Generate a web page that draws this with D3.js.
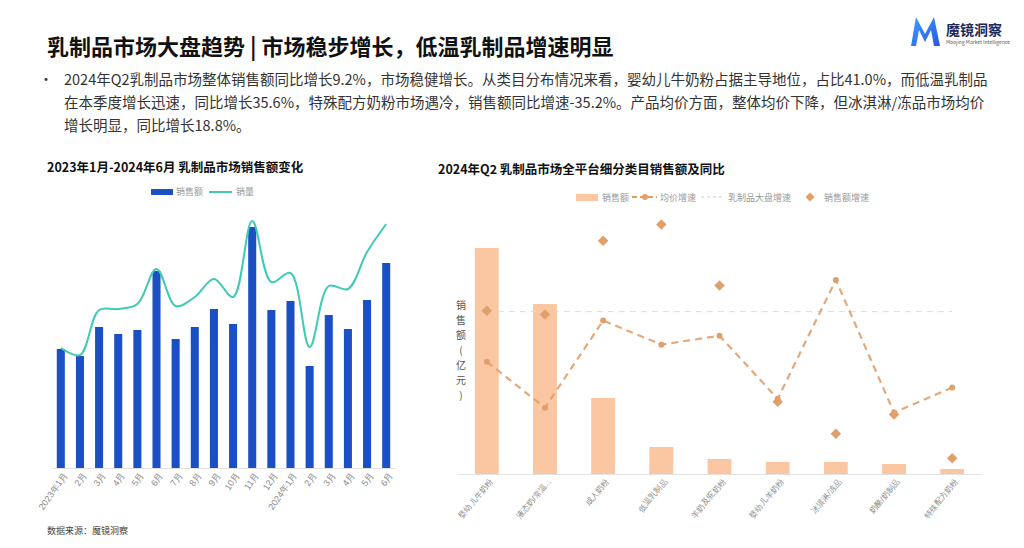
<!DOCTYPE html>
<html>
<head>
<meta charset="utf-8">
<script src="https://cdn.jsdelivr.net/npm/d3@7"></script>
<style>
  body { margin: 0; background: #fff; }
  svg { display: block; font-family: "Noto Sans CJK SC", "Noto Sans", sans-serif; }
  .axis path { stroke: #e2e2e2; }
  .axis text { fill: #8a8a8a; }
</style>
</head>
<body>
<svg id="chart" width="1024" height="548"></svg>
<script>
// left chart: monthly sales (amount + volume)
const months = ["2023年1月","2月","3月","4月","5月","6月","7月","8月","9月","10月","11月","12月",
                "2024年1月","2月","3月","4月","5月","6月"];
const salesAmt = [59.5, 56, 70.5, 67, 69, 98.5, 64.5, 70.5, 79.5, 72, 120.5, 79, 83.5, 51, 76.5, 69.5, 84, 102.5];
const salesVol = [60, 56.5, 79, 79.5, 82, 99.5, 81, 85.5, 94.5, 85.5, 123.5, 93, 97.5, 60.5, 91, 89.5, 108, 122];

// right chart: Q2 2024 categories
const categories = ["婴幼儿牛奶粉","液态奶/常温...","成人奶粉","低温乳制品","羊奶及驼奶粉",
                    "婴幼儿羊奶粉","冰淇淋/冻品","奶酪/奶制品","特殊配方奶粉"];
const catSales = [113, 85, 38, 13.5, 7.5, 6, 6, 5, 2.5];
const priceGrowth = [-6.0, -19.9, 6.5, -0.8, 1.9, -17.2, 18.8, -21.4, -13.8];
const salesGrowth = [9.5, 8.3, 30.7, 35.6, 17.1, -18.1, -27.8, -22.0, -35.2];
const marketGrowth = 9.2;

const bulletLines = [
  "2024年Q2乳制品市场整体销售额同比增长9.2%，市场稳健增长。从类目分布情况来看，婴幼儿牛奶粉占据主导地位，占比41.0%，而低温乳制品",
  "在本季度增长迅速，同比增长35.6%，特殊配方奶粉市场遇冷，销售额同比增速-35.2%。产品均价方面，整体均价下降，但冰淇淋/冻品市场均价",
  "增长明显，同比增长18.8%。"
];

const svg = d3.select("#chart");
const blue = "#1b4fc4", teal = "#3fcab3", peach = "#fbc6a2", orange = "#e0a06c";

// header
svg.append("text").attr("x", 47).attr("y", 55)
  .attr("font-size", "22px").attr("font-weight", "bold").attr("fill", "#111")
  .text("乳制品市场大盘趋势 | 市场稳步增长，低温乳制品增速明显");

// logo
const grad = svg.append("defs").append("linearGradient").attr("id", "lg")
  .attr("x1", 0).attr("y1", 0).attr("x2", 1).attr("y2", 1);
grad.append("stop").attr("offset", "0%").attr("stop-color", "#3aa0ff");
grad.append("stop").attr("offset", "100%").attr("stop-color", "#2a55e8");
svg.append("path")
  .attr("d", "M911,46 L916,17 L925,34 L934,17 L940,46 L934,46 L931,30 L925,42 L919,30 L916,46 Z")
  .attr("fill", "url(#lg)");
svg.append("text").attr("x", 946).attr("y", 35).attr("font-size", "14px")
  .attr("font-weight", "bold").attr("fill", "#1c2a5a").text("魔镜洞察");
svg.append("text").attr("x", 946).attr("y", 44).attr("font-size", "5px")
  .attr("fill", "#555").text("Moojing Market Intelligence");

// bullet paragraph
svg.append("text").attr("x", 39).attr("y", 84).attr("font-size", "14px").attr("fill", "#333").text("•");
svg.selectAll(".para").data(bulletLines).enter().append("text")
  .attr("class", "para")
  .attr("x", 64).attr("y", (d, i) => 85 + i * 23)
  .attr("font-size", "14.5px").attr("fill", "#333")
  .text(d => d);

// ---------- left chart ----------
svg.append("text").attr("x", 47).attr("y", 172).attr("font-size", "12.5px")
  .attr("font-weight", "bold").attr("fill", "#111")
  .text("2023年1月-2024年6月  乳制品市场销售额变化");

const lg1 = svg.append("g").attr("font-size", "9px").attr("fill", "#999");
lg1.append("rect").attr("x", 151).attr("y", 189).attr("width", 22).attr("height", 6).attr("fill", blue);
lg1.append("text").attr("x", 176).attr("y", 195).text("销售额");
lg1.append("line").attr("x1", 209).attr("x2", 232).attr("y1", 192).attr("y2", 192)
  .attr("stroke", teal).attr("stroke-width", 2);
lg1.append("text").attr("x", 236).attr("y", 195).text("销量");

// month labels repeat, so the band scale runs on indexes
const xL = d3.scaleBand().domain(d3.range(months.length)).range([52, 395])
  .paddingInner(0.58).paddingOuter(0.25);
const yL = d3.scaleLinear().domain([0, 130]).range([468, 208]);
const yV = d3.scaleLinear().domain([0, 130]).range([468, 208]);

svg.selectAll(".barL").data(salesAmt).enter().append("rect")
  .attr("class", "barL")
  .attr("x", (d, i) => xL(i))
  .attr("y", d => yL(d))
  .attr("width", xL.bandwidth())
  .attr("height", d => yL(0) - yL(d))
  .attr("fill", blue);

const volLine = d3.line()
  .x((d, i) => xL(i) + xL.bandwidth() / 2)
  .y(d => yV(d))
  .curve(d3.curveCatmullRom.alpha(0.5));
svg.append("path").datum(salesVol).attr("d", volLine)
  .attr("fill", "none").attr("stroke", teal).attr("stroke-width", 2);

const axL = svg.append("g").attr("class", "axis")
  .attr("transform", "translate(0,468)")
  .call(d3.axisBottom(xL).tickSize(0).tickPadding(6).tickFormat(i => months[i]));
axL.selectAll("text")
  .attr("font-size", "9px")
  .attr("text-anchor", "end")
  .attr("dx", "-2").attr("dy", "4")
  .attr("transform", "rotate(-55)");

svg.append("text").attr("x", 47).attr("y", 534).attr("font-size", "9px")
  .attr("fill", "#444").text("数据来源：魔镜洞察");

// ---------- right chart ----------
svg.append("text").attr("x", 438).attr("y", 174).attr("font-size", "12.5px")
  .attr("font-weight", "bold").attr("fill", "#111")
  .text("2024年Q2 乳制品市场全平台细分类目销售额及同比");

const lg2 = svg.append("g").attr("font-size", "9px").attr("fill", "#999");
lg2.append("rect").attr("x", 576).attr("y", 194).attr("width", 22).attr("height", 7).attr("fill", peach);
lg2.append("text").attr("x", 602).attr("y", 201).text("销售额");
lg2.append("line").attr("x1", 632).attr("x2", 657).attr("y1", 197).attr("y2", 197)
  .attr("stroke", orange).attr("stroke-width", 2).attr("stroke-dasharray", "5,3");
lg2.append("circle").attr("cx", 645).attr("cy", 197).attr("r", 3).attr("fill", orange);
lg2.append("text").attr("x", 660).attr("y", 201).text("均价增速");
lg2.append("line").attr("x1", 701).attr("x2", 723).attr("y1", 197).attr("y2", 197)
  .attr("stroke", "#ccc").attr("stroke-width", 1).attr("stroke-dasharray", "3,3");
lg2.append("text").attr("x", 728).attr("y", 201).text("乳制品大盘增速");
lg2.append("path").attr("d", d3.symbol(d3.symbolSquare, 40)())
  .attr("transform", "translate(810,197) rotate(45)").attr("fill", orange);
lg2.append("text").attr("x", 824).attr("y", 201).text("销售额增速");

const xR = d3.scaleBand().domain(categories).range([458, 981]).paddingInner(0.59).paddingOuter(0.29);
const yS = d3.scaleLinear().domain([0, 132]).range([474, 210]);
const yG = d3.scaleLinear().domain([-40, 40]).range([474, 210]);
const cx = c => xR(c) + xR.bandwidth() / 2;

svg.selectAll(".barR").data(categories).enter().append("rect")
  .attr("class", "barR")
  .attr("x", d => xR(d))
  .attr("y", (d, i) => yS(catSales[i]))
  .attr("width", xR.bandwidth())
  .attr("height", (d, i) => yS(0) - yS(catSales[i]))
  .attr("fill", peach);

// market growth reference
svg.append("line")
  .attr("x1", cx(categories[0])).attr("x2", cx(categories[categories.length - 1]))
  .attr("y1", yG(marketGrowth)).attr("y2", yG(marketGrowth))
  .attr("stroke", "#dcdcdc").attr("stroke-width", 1).attr("stroke-dasharray", "6,5");

// average price growth
const priceLine = d3.line()
  .x((d, i) => cx(categories[i]))
  .y(d => yG(d));
svg.append("path").datum(priceGrowth).attr("d", priceLine)
  .attr("fill", "none").attr("stroke", orange).attr("stroke-width", 2.2)
  .attr("stroke-dasharray", "7,5").attr("opacity", 0.9);
svg.selectAll(".pdot").data(priceGrowth).enter().append("circle")
  .attr("class", "pdot")
  .attr("cx", (d, i) => cx(categories[i]))
  .attr("cy", d => yG(d))
  .attr("r", 3).attr("fill", orange);

// sales growth diamonds
svg.selectAll(".dia").data(salesGrowth).enter().append("path")
  .attr("class", "dia")
  .attr("d", d3.symbol(d3.symbolSquare, 55)())
  .attr("transform", (d, i) => `translate(${cx(categories[i])},${yG(d)}) rotate(45)`)
  .attr("fill", orange);

const axR = svg.append("g").attr("class", "axis")
  .attr("transform", "translate(0,474)")
  .call(d3.axisBottom(xR).tickSize(0).tickPadding(6));
axR.selectAll("text")
  .attr("font-size", "8px")
  .attr("text-anchor", "end")
  .attr("dx", "-2").attr("dy", "4")
  .attr("transform", "rotate(-50)");

// vertical y-axis title, one character per line
const yTitle = "销售额(亿元)".split("");
svg.selectAll(".ytl").data(yTitle).enter().append("text")
  .attr("class", "ytl")
  .attr("x", 461).attr("y", (d, i) => 309 + i * 15)
  .attr("text-anchor", "middle").attr("font-size", "10px").attr("fill", "#555")
  .text(d => d);
</script>
</body>
</html>
